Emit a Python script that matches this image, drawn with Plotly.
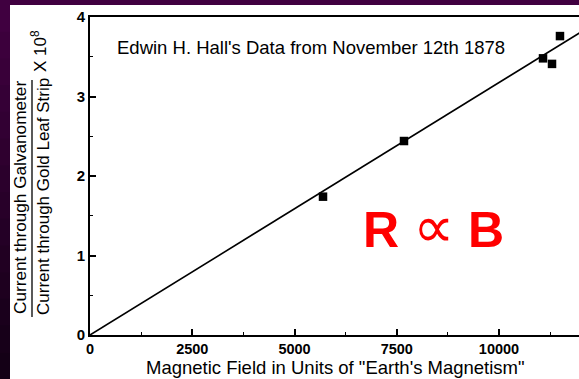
import plotly.graph_objects as go

# ---- data ----
field = [5697, 7677, 11076, 11296, 11491]          # "Earth's magnetism" units
ratio = [1.74, 2.44, 3.48, 3.41, 3.76]             # current ratio x 1e8
fit_x = [0, 12000]
fit_y = [0, 3.81]
x_ticks = [0, 2500, 5000, 7500, 10000]
y_ticks = [0, 1, 2, 3, 4]

W, H = 579, 379
L, R, T, B = 90, 0, 17, 44
PW, PH = W - L - R, H - T - B


def px(xp):
    return (xp - L) / PW


def py(yp):
    return (H - B - yp) / PH


FONT = "Liberation Sans, Arial, Helvetica, sans-serif"

fig = go.Figure()
fig.add_trace(go.Scatter(x=fit_x, y=fit_y, mode="lines",
                         line=dict(color="black", width=1.6),
                         hoverinfo="skip", showlegend=False))
fig.add_trace(go.Scatter(x=field, y=ratio, mode="markers",
                         marker=dict(symbol="square", size=8.5, color="black"),
                         showlegend=False))

shapes = []
# dark slide background: left strip with vertical gradient, top strip
bands = 14
for i in range(bands):
    t = i / (bands - 1)
    r = int(0x40 * (1 - t) + 0x14 * t)
    b = int(0x40 * (1 - t) + 0x16 * t)
    top = 5 + (H - 5) * i / bands
    bot = 5 + (H - 5) * (i + 1) / bands
    shapes.append(dict(type="rect", xref="paper", yref="paper",
                       x0=px(0), x1=px(10), y0=py(bot + 0.5), y1=py(top),
                       fillcolor=f"rgb({r},0,{b})", line=dict(width=0), layer="below"))
shapes.append(dict(type="rect", xref="paper", yref="paper",
                   x0=px(0), x1=px(W), y0=py(5), y1=py(0),
                   fillcolor="#400040", line=dict(width=0), layer="below"))
shapes.append(dict(type="rect", xref="paper", yref="paper",
                   x0=px(10), x1=px(W), y0=py(H), y1=py(5),
                   fillcolor="white", line=dict(width=0), layer="below"))
# fraction bar of y-axis title
shapes.append(dict(type="line", xref="paper", yref="paper",
                   x0=px(32), x1=px(32), y0=py(317), y1=py(80),
                   line=dict(color="black", width=1.3)))


def ann(text, x, y, size, angle=0, color="black"):
    return dict(text=text, xref="paper", yref="paper", x=px(x), y=py(y),
                xanchor="center", yanchor="middle", textangle=angle, borderpad=0,
                showarrow=False, font=dict(family=FONT, size=size, color=color))


annotations = [
    ann("Current through Galvanometer", 20, 198, 17.2, -90),
    ann("Current through Gold Leaf Strip", 43, 197, 17, -90),
    ann("X 10<sup>8</sup>", 39, 51, 17, -90),
    ann("Edwin H. Hall's Data from November 12th 1878", 311, 48, 18.5),
    ann("Magnetic Field in Units of \"Earth's Magnetism\"", 335, 367.5, 18.5),
    ann("<b>R</b> <span style='font-size:58px'>∝</span> <b>B</b>", 433, 226, 50, 0, "#ff0000"),
]

fig.update_layout(
    width=W, height=H,
    margin=dict(l=L, r=R, t=T, b=B, pad=0),
    paper_bgcolor="#400040", plot_bgcolor="white",
    shapes=shapes, annotations=annotations,
    font=dict(family=FONT, color="black"),
    xaxis=dict(range=[0, PW / 40.9 * 1000], tickmode="array", tickvals=x_ticks,
               ticktext=[f"<b>{v}</b>" for v in x_ticks],
               ticks="inside", ticklen=6, tickwidth=1.5, tickcolor="black",
               minor=dict(ticks="inside", dtick=1250, tick0=0, ticklen=3, tickwidth=1.3, tickcolor="black"),
               showline=True, linecolor="black", linewidth=1.8, mirror=True,
               showgrid=False, zeroline=False,
               tickfont=dict(family=FONT, size=14.5, color="black")),
    yaxis=dict(range=[0, 4], tickmode="array", tickvals=y_ticks,
               ticktext=[f"<b>{v}</b>" for v in y_ticks],
               ticks="inside", ticklen=6, tickwidth=1.5, tickcolor="black",
               minor=dict(ticks="inside", dtick=0.5, tick0=0, ticklen=3, tickwidth=1.3, tickcolor="black"),
               showline=True, linecolor="black", linewidth=1.8, mirror=False,
               showgrid=False, zeroline=False,
               tickfont=dict(family=FONT, size=15, color="black")),
)

fig.write_html("out.html")
